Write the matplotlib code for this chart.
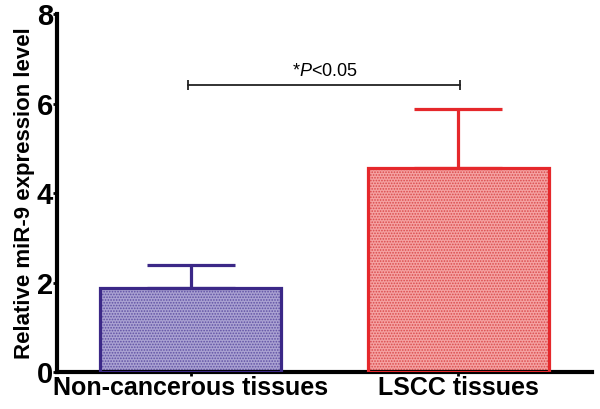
import matplotlib
matplotlib.use("Agg")
import matplotlib.pyplot as plt
import matplotlib.transforms as mtransforms

categories = ["Non-cancerous tissues", "LSCC tissues"]
means = [1.88, 4.56]
errors = [0.51, 1.32]
edge_colors = ["#3b2887", "#e5282b"]
face_colors = ["#aaa2d2", "#f5a2a2"]
dot_colors = ["#5f50a3", "#d94a4b"]
sig_text = "*$\\it{P}$<0.05"
sig_y = 6.41
yticks = [0, 2, 4, 6, 8]

plt.rcParams['font.family'] = ['Liberation Sans', 'DejaVu Sans']
plt.rcParams['mathtext.fontset'] = 'custom'
plt.rcParams['mathtext.rm'] = 'Liberation Sans'
plt.rcParams['mathtext.it'] = 'Liberation Sans:italic'
plt.rcParams['hatch.linewidth'] = 0.8

fig = plt.figure(figsize=(6, 4.09), dpi=100)
ax = fig.add_axes([0.095, 0.0905, 0.892, 0.875])

x = list(range(len(categories)))
width = 0.675
for i in x:
    ax.bar(i, means[i], width=width, color=face_colors[i], edgecolor=dot_colors[i],
           hatch='......', linewidth=0, zorder=2)
    ax.bar(i, means[i], width=width, fill=False, edgecolor=edge_colors[i],
           linewidth=2.3, zorder=3)
    ax.errorbar(i, means[i], yerr=[[0], [errors[i]]], fmt='none', ecolor=edge_colors[i],
                elinewidth=2.3, capsize=32, capthick=2.3, zorder=3)

ax.plot([x[0] - 0.01, x[1] + 0.005], [sig_y, sig_y], color='#222222', lw=1.3,
        marker='|', markersize=7, markeredgewidth=1.3)
ax.text((x[0] + x[1]) / 2, sig_y + 0.12, sig_text, ha='center', va='bottom', fontsize=13)

ax.set_xlim(-0.5, 1.5)
ax.set_ylim(0, 8)
ax.set_yticks(yticks)
ax.set_yticklabels([str(t) for t in yticks], fontsize=21, fontweight='bold')
ax.set_xticks(x)
ax.set_xticklabels(categories, fontsize=18, fontweight='bold')
ax.set_ylabel("Relative miR-9 expression level", fontsize=16, fontweight='bold', labelpad=1)

lbl = ax.get_xticklabels()[0]
lbl.set_transform(lbl.get_transform() + mtransforms.ScaledTranslation(10 / 100, 0, fig.dpi_scale_trans))

for s in ['top', 'right']:
    ax.spines[s].set_visible(False)
for s in ['left', 'bottom']:
    ax.spines[s].set_linewidth(3)
ax.tick_params(axis='both', width=2, length=3, pad=0)

fig.savefig("out.png", dpi=100)
